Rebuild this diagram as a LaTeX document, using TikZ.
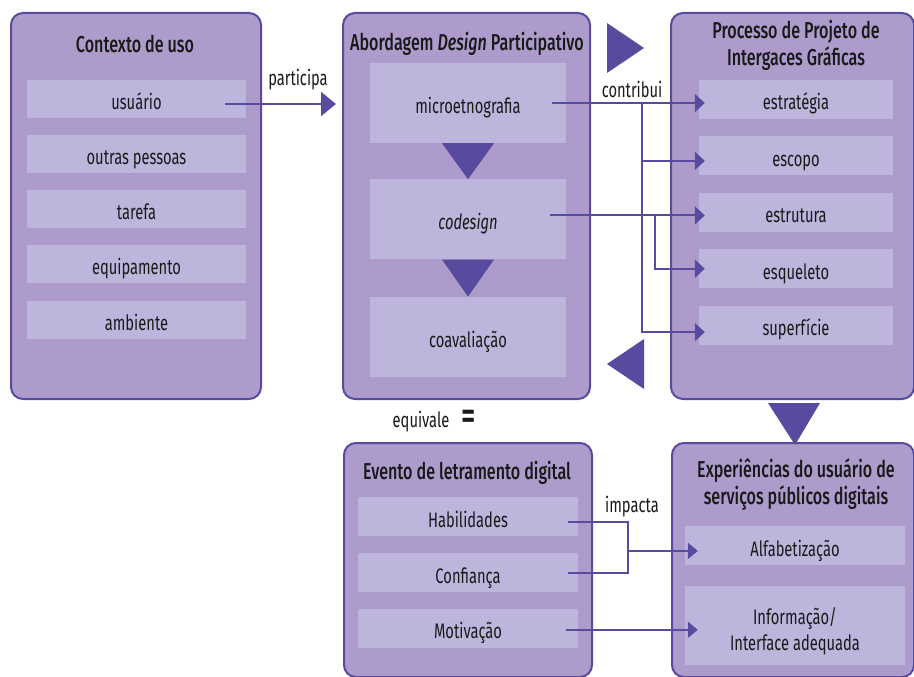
\documentclass[tikz,border=0pt]{standalone}
\usepackage{fontspec}
\setmainfont{Fira Sans}[FakeStretch=0.7, BoldFont={Fira Sans Medium}, BoldItalicFont={Fira Sans Medium Italic}]
\usepackage{tikz}
\usetikzlibrary{positioning}
\usetikzlibrary{calc,arrows.meta}
\definecolor{darkpurple}{RGB}{88,74,158}
\definecolor{boxpurple}{RGB}{173,156,203}
\definecolor{itempurple}{RGB}{189,181,219}
\definecolor{textblack}{RGB}{25,25,25}

\begin{document}
\begin{tikzpicture}[x=1pt, y=1pt,
bignode/.style={rectangle, rounded corners=12pt, draw=darkpurple, fill=boxpurple, line width=2pt, anchor=north west, inner sep=0pt},
itemnode/.style={rectangle, fill=itempurple, minimum height=39pt, inner sep=0pt, text height=22pt, text depth=1pt, align=center, text=textblack, font=\fontsize{21}{26}\selectfont},
titlenode/.style={align=center, text=textblack, font=\bfseries\fontsize{23}{27}\selectfont},
labelnode/.style={text=textblack, font=\fontsize{21}{26}\selectfont},
line/.style={draw=darkpurple, line width=2pt},
arrow/.style={line, -{Triangle[length=10pt,width=18pt]}},
bigtri/.style={fill=darkpurple},
]
\useasboundingbox (0,0) rectangle (914,-677);
%Nodes
\node[bignode, minimum width=250pt, minimum height=386pt] (contexto)   at (10,-12)  {};
\node[bignode, minimum width=247pt, minimum height=386pt] (abordagem)  at (342,-12) {};
\node[bignode, minimum width=243pt, minimum height=386pt] (processo)   at (670,-12) {};
\node[bignode, minimum width=248pt, minimum height=234pt] (evento)     at (343,-442) {};
\node[bignode, minimum width=242pt, minimum height=234pt] (experiencia) at (671,-442) {};
%Titles
\node[titlenode] (tcontexto)   at (135,-44)   {Contexto de uso};
\node[titlenode] (tabordagem)  at (467,-44)   {Abordagem \textit{Design} Participativo};
\node[titlenode] (tprocesso)   at (796,-45)   {Processo de Projeto de\\Intergaces Gráficas};
\node[titlenode] (tevento)     at (467,-473)  {Evento de letramento digital};
\node[titlenode] (texperiencia) at (796,-484) {Experiências do usuário de\\serviços públicos digitais};
%Items
\node[itemnode, minimum width=219pt, minimum height=38pt] (usuario)  at (136.5,-99) {usuário};
\node[itemnode, minimum width=219pt, minimum height=38pt] (outras)   [below=17pt of usuario] {outras pessoas};
\node[itemnode, minimum width=219pt, minimum height=38pt] (tarefa)   [below=16pt of outras]  {tarefa};
\node[itemnode, minimum width=219pt, minimum height=38pt] (equipa)   [below=17pt of tarefa]  {equipamento};
\node[itemnode, minimum width=219pt, minimum height=38pt] (ambiente) [below=17pt of equipa]  {ambiente};

\node[itemnode, minimum width=196pt, minimum height=80pt] (micro)    at (468,-103)  {microetnografia};
\node[itemnode, minimum width=196pt, minimum height=80pt] (codes)    [below=36pt of micro] {\textit{codesign}};
\node[itemnode, minimum width=196pt, minimum height=80pt] (coaval)   [below=37pt of codes] {coavaliação};

\node[itemnode, minimum width=194pt] (estrategia) at (796,-99.5) {estratégia};
\node[itemnode, minimum width=194pt] (escopo)     [below=17pt of estrategia] {escopo};
\node[itemnode, minimum width=194pt] (estrutura)  [below=17pt of escopo]     {estrutura};
\node[itemnode, minimum width=194pt] (esqueleto)  [below=17pt of estrutura]  {esqueleto};
\node[itemnode, minimum width=194pt] (superficie) [below=17pt of esqueleto]  {superfície};

\node[itemnode, minimum width=220pt] (habil)  at (468,-516.5) {Habilidades};
\node[itemnode, minimum width=220pt] (confi)  [below=17pt of habil] {Confiança};
\node[itemnode, minimum width=220pt] (motiv)  [below=16pt of confi] {Motivação};

\node[itemnode, minimum width=220pt] (alfab)  at (795,-545.5) {Alfabetização};
\node[itemnode, minimum width=220pt, minimum height=79pt, text height=50pt] (info) [below=21pt of alfab] {Informação/\\Interface adequada};
%Lines
\draw[arrow, -{Triangle[length=15pt,width=24pt]}] ($(usuario.east)+(-21,-5)$) -- ($(usuario.east -| abordagem.west)+(-6,-5)$);
\draw[arrow] ($(micro.east)+(-14,0)$) -- ($(micro.east -| estrategia.west)+(6,0)$);
\coordinate (jA) at ($(micro.east)+(76,0)$);
\draw[arrow] (jA) |- ($(escopo.west)+(6,-5)$);
\draw[arrow] (jA) |- ($(superficie.west)+(6,-7)$);
\draw[arrow] ($(codes.east)+(-16,4)$) -- ($(codes.east -| estrutura.west)+(6,4)$);
\coordinate (jB) at ($(codes.east)+(89,4)$);
\draw[arrow] (jB) |- ($(esqueleto.west)+(6,0)$);

\draw[line] ($(habil.east)+(-10,-5)$) -| ($(confi.east)+(50,0)$) -- ($(confi.east)+(-10,0)$);
\coordinate (jC) at ($(confi.east)+(50,22)$);
\draw[arrow, -{Triangle[length=10pt,width=16pt]}] (jC) -- ($(jC -| alfab.west)+(13,0)$);
\draw[arrow, -{Triangle[length=10pt,width=16pt]}] ($(motiv.east)+(-12,-1.5)$) -- ($(motiv.east -| info.west)+(13,-1.5)$);
%Triangles
\fill[bigtri] ($(micro.south)+(-26,0)$) -- ($(micro.south)+(26,0)$) -- (codes.north) -- cycle;
\fill[bigtri] ($(codes.south)+(-26,0)$) -- ($(codes.south)+(26,0)$) -- (coaval.north) -- cycle;
\fill[bigtri] (607,-23) -- (607,-73) -- (644,-48) -- cycle;
\fill[bigtri] (644,-339) -- (644,-389) -- (607,-364) -- cycle;
\fill[bigtri] (768,-403) -- (820,-403) -- ($(experiencia.north)+(2,-3)$) -- cycle;
%Text
\node[labelnode] (participa) at (298,-80)  {participa};
\node[labelnode] (contribui) at (632,-89)  {contribui};
\node[labelnode] (equivale)  at (421,-422) {equivale};
\node[labelnode, font=\bfseries\fontsize{40}{40}\selectfont] (igual) at (469,-420) {=};
\node[labelnode] (impacta)   at (632,-507) {impacta};

\end{tikzpicture}
\end{document}
